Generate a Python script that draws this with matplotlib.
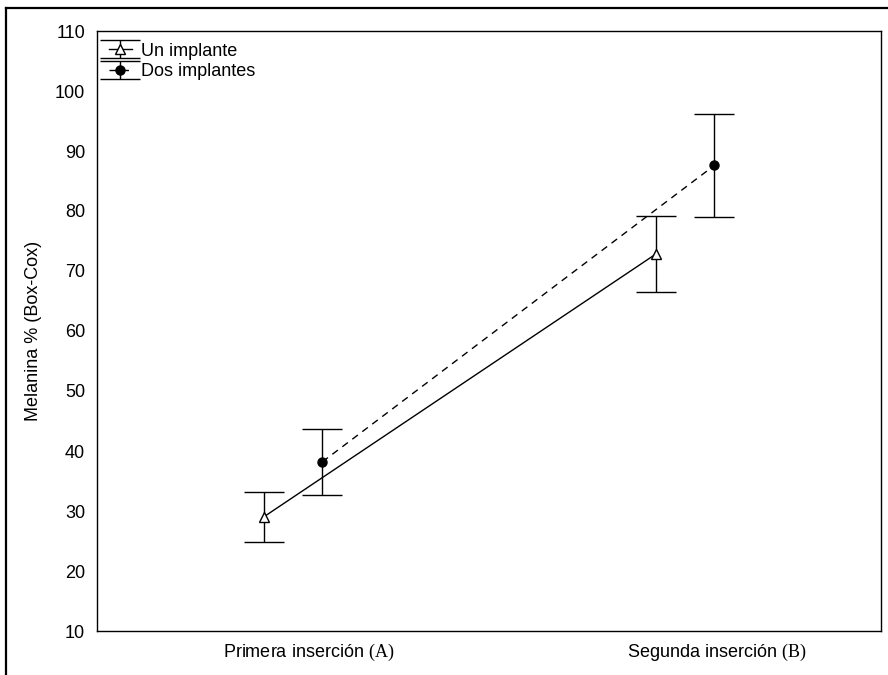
import numpy as np
import matplotlib.pyplot as plt
from matplotlib.lines import Line2D

plt.rcParams['font.family'] = ['Liberation Sans', 'DejaVu Sans']
plt.rcParams['mathtext.fontset'] = 'custom'
plt.rcParams['mathtext.rm'] = 'Liberation Serif'

# datos
grupos = ['Primera inserción $\\mathrm{(A)}$', 'Segunda inserción $\\mathrm{(B)}$']
un_media = [29.0, 72.8]
un_err = [4.1, 6.35]
dos_media = [38.2, 87.6]
dos_err = [5.5, 8.6]
yticks = [10, 20, 30, 40, 50, 60, 70, 80, 90, 100, 110]

W, H = 888, 675
fs = 13
fig = plt.figure(figsize=(W/100, H/100), dpi=100)
ax = fig.add_axes([97/W, 1-631/H, (881-97)/W, (631-31)/H])

x = np.arange(1, len(grupos)+1)
off = 0.075

ax.errorbar(x-off, un_media, yerr=un_err, color='black', lw=1.0, ls='-',
            marker='^', ms=6.5, mfc='white', mec='black', mew=1.0,
            capsize=14.5, capthick=1.0, elinewidth=1.0, label='Un implante')
ax.errorbar(x+off, dos_media, yerr=dos_err, color='black', lw=1.0, ls=(0, (5, 4)),
            marker='o', ms=6.5, mfc='black', mec='black',
            capsize=14.5, capthick=1.0, elinewidth=1.0, label='Dos implantes')

ax.set_xlim(0.5, 2.5)
ax.set_ylim(10, 110)
ax.set_yticks(yticks)
ax.set_xticks([1.04, 2.08])
ax.set_xticklabels(grupos)
ax.tick_params(axis='both', length=0, labelsize=fs)
ax.tick_params(axis='y', pad=8.5)
ax.tick_params(axis='x', pad=7.5)
for s in ax.spines.values():
    s.set_linewidth(1.0)
ax.set_ylabel('Melanina % (Box-Cox)', fontsize=fs, labelpad=9)

ax.legend(loc='upper left', frameon=False, fontsize=fs, handlelength=1.3,
          handletextpad=0.5, labelspacing=0.2, borderaxespad=0.45,
          borderpad=0.2)

# marco exterior
for xs, ys in [((6/W, 6/W), (0, 1-8/H)), ((6/W, 1), (1-8/H, 1-8/H))]:
    fig.add_artist(Line2D(xs, ys, color='black', lw=1.6, transform=fig.transFigure))

fig.savefig('out.png', dpi=100)
